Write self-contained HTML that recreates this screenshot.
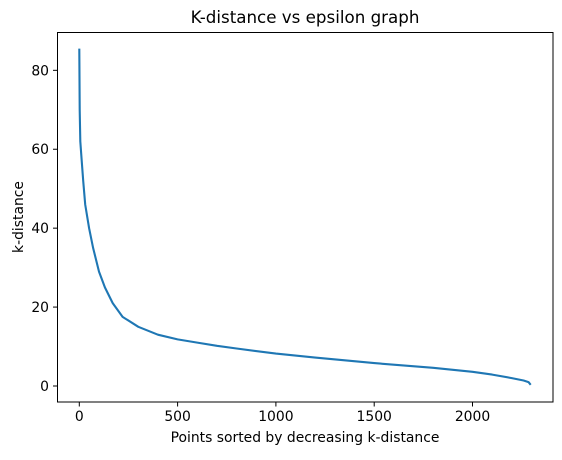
<!DOCTYPE html>
<html><head><meta charset="utf-8"><style>
body{margin:0;background:#fff;}
svg text{font-family:"DejaVu Sans","Liberation Sans",sans-serif;fill:#000;}
</style></head><body>
<svg width="562" height="455" id="c">
<rect x="0" y="0" width="562" height="455" fill="#fff"/>
<text x="305" y="23" font-size="16.7" text-anchor="middle">K-distance vs epsilon graph</text>
<text x="305" y="442" font-size="13.9" text-anchor="middle">Points sorted by decreasing k-distance</text>
<text transform="translate(23,217) rotate(-90)" font-size="13.9" text-anchor="middle">k-distance</text>
<g id="xt"></g><g id="yt"></g>
<path id="line" fill="none" stroke="#1f77b4" stroke-width="2.1" stroke-linejoin="round"/>
<rect x="57.5" y="32.5" width="495.5" height="369.5" fill="none" stroke="#000" stroke-width="1"/>
</svg>
<script>
const pointIdx=[0,2,5,10,20,30,50,70,100,130,170,220,300,400,500,600,700,800,1000,1200,1500,1800,2000,2100,2200,2260,2285,2296];
const kDist=[85.5,70,62,58.5,52,46,40,35,29,25,21,17.5,15,13,11.8,11,10.2,9.5,8.2,7.2,5.8,4.6,3.6,2.9,2.0,1.4,1.0,0.3];
const xTicks=[0,500,1000,1500,2000];
const yTicks=[0,20,40,60,80];
const X=v=>79.3+v*0.1966, Y=v=>386-v*3.946;
const ns="http://www.w3.org/2000/svg";
const xt=document.getElementById('xt'), yt=document.getElementById('yt');
xTicks.forEach(t=>{
 const l=document.createElementNS(ns,'line');
 l.setAttribute('x1',X(t));l.setAttribute('x2',X(t));l.setAttribute('y1',402);l.setAttribute('y2',406.5);l.setAttribute('stroke','#000');
 
 
 xt.appendChild(l);
 const s=document.createElementNS(ns,'text');
 s.setAttribute('x',X(t));s.setAttribute('y',421);s.setAttribute('font-size','13.9');s.setAttribute('text-anchor','middle');s.textContent=t;
 
 
 xt.appendChild(s);
});
yTicks.forEach(t=>{
 const l=document.createElementNS(ns,'line');
 l.setAttribute('x1',53);l.setAttribute('x2',57.5);l.setAttribute('y1',Y(t));l.setAttribute('y2',Y(t));l.setAttribute('stroke','#000');
 
 
 yt.appendChild(l);
 const s=document.createElementNS(ns,'text');
 s.setAttribute('x',49);s.setAttribute('y',Y(t)+5);s.setAttribute('font-size','13.9');s.setAttribute('text-anchor','end');s.textContent=t;
 
 
 yt.appendChild(s);
});
document.getElementById('line').setAttribute('d',pointIdx.map((p,i)=>(i?'L':'M')+X(p).toFixed(1)+','+Y(kDist[i]).toFixed(1)).join(''));
</script>
</body></html>
